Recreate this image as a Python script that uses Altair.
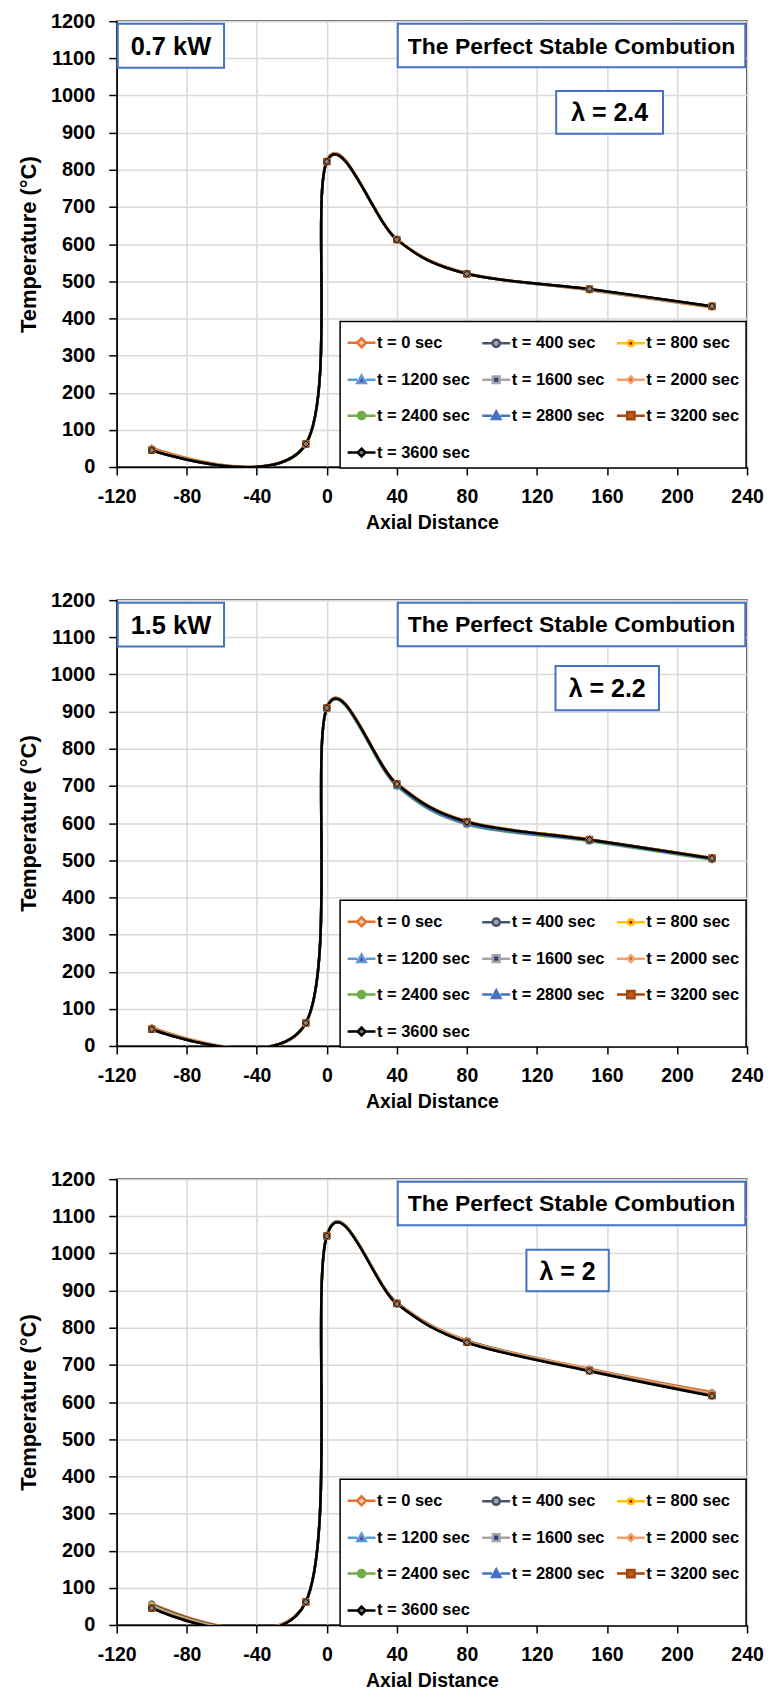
import altair as alt
import pandas as pd

# ---------------- data ----------------
X_POS = [-100, -12, 0, 40, 80, 150, 220]

SERIES = ["t = 0 sec", "t = 400 sec", "t = 800 sec", "t = 1200 sec", "t = 1600 sec",
          "t = 2000 sec", "t = 2400 sec", "t = 2800 sec", "t = 3200 sec", "t = 3600 sec"]

# panel 1 : 0.7 kW, lambda = 2.4
P1 = {
    "t = 0 sec":    [52, 60, 825, 614, 522, 476, 429],
    "t = 400 sec":  [48, 61, 823, 613, 521, 477, 431],
    "t = 800 sec":  [47, 61, 823, 613, 521, 477, 431],
    "t = 1200 sec": [46, 62, 822, 612, 520, 478, 432],
    "t = 1600 sec": [46, 62, 822, 612, 520, 478, 432],
    "t = 2000 sec": [47, 62, 822, 612, 521, 478, 432],
    "t = 2400 sec": [45, 62, 822, 612, 520, 478, 432],
    "t = 2800 sec": [45, 62, 822, 612, 520, 478, 432],
    "t = 3200 sec": [45, 62, 822, 612, 520, 479, 433],
    "t = 3600 sec": [45, 62, 822, 612, 520, 479, 433],
}
# panel 2 : 1.5 kW, lambda = 2.2
P2 = {
    "t = 0 sec":    [51, 60, 912, 707, 605, 556, 506],
    "t = 400 sec":  [47, 61, 911, 706, 604, 556, 506],
    "t = 800 sec":  [47, 61, 911, 706, 604, 556, 506],
    "t = 1200 sec": [46, 62, 910, 704, 602, 555, 505],
    "t = 1600 sec": [46, 62, 910, 704, 602, 555, 505],
    "t = 2000 sec": [47, 62, 911, 706, 604, 556, 506],
    "t = 2400 sec": [45, 62, 908, 699, 596, 551, 501],
    "t = 2800 sec": [45, 62, 909, 701, 598, 553, 503],
    "t = 3200 sec": [45, 62, 910, 706, 604, 556, 506],
    "t = 3600 sec": [45, 62, 910, 705, 603, 555, 505],
}
# panel 3 : lambda = 2
P3 = {
    "t = 0 sec":    [58, 64, 1050, 868, 766, 690, 627],
    "t = 400 sec":  [56, 63, 1049, 867, 765, 688, 624],
    "t = 800 sec":  [52, 63, 1049, 866, 764, 687, 622],
    "t = 1200 sec": [50, 62, 1048, 866, 763, 686, 621],
    "t = 1600 sec": [49, 62, 1048, 866, 762, 686, 620],
    "t = 2000 sec": [50, 63, 1049, 867, 764, 688, 623],
    "t = 2400 sec": [47, 62, 1048, 865, 761, 685, 618],
    "t = 2800 sec": [47, 62, 1048, 865, 761, 685, 618],
    "t = 3200 sec": [45, 62, 1047, 865, 761, 684, 617],
    "t = 3600 sec": [45, 62, 1047, 864, 760, 683, 616],
}

X_TICKS = [-120, -80, -40, 0, 40, 80, 120, 160, 200, 240]
Y_TICKS = [0, 100, 200, 300, 400, 500, 600, 700, 800, 900, 1000, 1100, 1200]

PANEL_TEXT = [
    {"kw": "0.7 kW", "title": "The Perfect Stable Combution", "lam": "λ = 2.4"},
    {"kw": "1.5 kW", "title": "The Perfect Stable Combution", "lam": "λ = 2.2"},
    {"kw": None,     "title": "The Perfect Stable Combution", "lam": "λ = 2"},
]
PANEL_DATA = [P1, P2, P3]

# ---------------- styles / layout ----------------
FONT = "Liberation Sans"
LINE_COLORS = ["#E8712E", "#44546A", "#FFC000", "#5B9BD5", "#A5A5A5",
               "#F4A26B", "#70AD47", "#4472C4", "#9E480E", "#000000"]
MARKER_COLORS = ["#F8CBAD", "#A5A5A5", "#C00000", "#7030A0", "#264478",
                 "#C55A11", "#70AD47", "#4472C4", "#C55A11", "#7F7F7F"]
MARKER_SHAPES = ["diamond", "circle", "circle", "triangle-up", "square",
                 "diamond", "circle", "triangle-up", "square", "diamond"]


def seg(g):
    return f"M-1,0H-{g}M{g},0H1"


def diamond(r):
    return f"M0,-{r}L{r},0L0,{r}L-{r},0Z"


def circle(r):
    return f"M{r},0A{r},{r},0,1,1,-{r},0A{r},{r},0,1,1,{r},0Z"


def tri(r):
    return f"M0,-{r}L{r},{r * 0.8}L-{r},{r * 0.8}Z"


def square(r):
    return f"M-{r},-{r}H{r}V{r}H-{r}Z"


LEGEND_SHAPES = [
    seg(0.32) + diamond(0.32),
    seg(0.26) + circle(0.26),
    seg(0.2) + circle(0.2),
    seg(0.3) + tri(0.3),
    seg(0.24) + square(0.24),
    seg(0.24) + diamond(0.24),
    seg(0.26) + circle(0.26),
    seg(0.3) + tri(0.3),
    seg(0.26) + square(0.26),
    seg(0.28) + diamond(0.28),
]

W, H = 632, 447
LAM_BOXES = [(131, 192, 897, 1012), (130.6, 189.7, 904, 1023), (114, 161, 898, 1010)]

X_SCALE = dict(domain=[-120, 240], nice=False, zero=False)
Y_SCALE = dict(domain=[0, 1200], nice=False)
AX = dict(values=X_TICKS, labelExpr="'' + datum.value", labelFlush=False, labelOverlap=False,
          labelFontSize=19.5, labelPadding=13, titlePadding=7)
AY = dict(values=Y_TICKS, labelExpr="'' + datum.value", labelFlush=False, labelOverlap=False,
          titlePadding=10, labelPadding=14)
X_TITLE = "Axial Distance"
Y_TITLE = "Temperature (°C)"


def xq(field):
    return alt.X(field, type="quantitative", scale=alt.Scale(**X_SCALE),
                 axis=alt.Axis(**AX), title=X_TITLE)


def yq(field):
    return alt.Y(field, type="quantitative", scale=alt.Scale(**Y_SCALE),
                 axis=alt.Axis(**AY), title=Y_TITLE)


def make_panel(i):
    data = PANEL_DATA[i]
    txt = PANEL_TEXT[i]

    rows = []
    for s in SERIES:
        for xv, tv in zip(X_POS, data[s]):
            rows.append({"x": xv, "T": tv, "series": s})
    df = pd.DataFrame(rows)

    base = alt.Chart(df)
    lines = base.mark_line(interpolate="cardinal", strokeWidth=2.5, clip=True).encode(
        x=xq("x"), y=yq("T"),
        stroke=alt.Stroke("series:N", scale=alt.Scale(domain=SERIES, range=LINE_COLORS), legend=None),
    )
    points = base.mark_point(filled=True, size=42, strokeWidth=1, opacity=1, clip=True).encode(
        x=xq("x"), y=yq("T"),
        fill=alt.Fill("series:N", scale=alt.Scale(domain=SERIES, range=MARKER_COLORS), legend=None),
        stroke=alt.Stroke("series:N", scale=alt.Scale(domain=SERIES, range=LINE_COLORS), legend=None),
        shape=alt.Shape("series:N", scale=alt.Scale(domain=SERIES, range=MARKER_SHAPES), legend=None),
    )
    leg = dict(orient="none", legendX=W - 408, legendY=H - 146, columns=3,
               direction="horizontal", title=None)
    legend_layer = base.transform_filter("false").mark_point(filled=True, opacity=1).encode(
        x=xq("x"), y=yq("T"),
        fill=alt.Fill("series:N", scale=alt.Scale(domain=SERIES, range=MARKER_COLORS), legend=alt.Legend(**leg)),
        stroke=alt.Stroke("series:N", scale=alt.Scale(domain=SERIES, range=LINE_COLORS), legend=alt.Legend(**leg)),
        shape=alt.Shape("series:N", scale=alt.Scale(domain=SERIES, range=LEGEND_SHAPES), legend=alt.Legend(**leg)),
    )

    layers = [lines, points, legend_layer]

    def box(x1, x2, y1, y2, label, fs):
        d = pd.DataFrame({"x1": [x1], "x2": [x2], "y1": [y1], "y2": [y2],
                          "xc": [(x1 + x2) / 2], "yc": [(y1 + y2) / 2], "label": [label]})
        r = alt.Chart(d).mark_rect(fill="white", stroke="#4472C4", strokeWidth=2).encode(
            x=xq("x1"), x2="x2:Q", y=yq("y1"), y2="y2:Q")
        t = alt.Chart(d).mark_text(font=FONT, fontSize=fs, fontWeight="bold", color="black",
                                   align="center", baseline="middle", dy=1).encode(
            x=xq("xc"), y=yq("yc"), text="label:N")
        return [r, t]

    if txt["kw"]:
        layers += box(-119.4, -58.7, 1075, 1193, txt["kw"], 25.5)
    layers += box(40.5, 239, 1076, 1193, txt["title"], 23)
    lx1, lx2, ly1, ly2 = LAM_BOXES[i]
    layers += box(lx1, lx2, ly1, ly2, txt["lam"], 25)

    return alt.layer(*layers).resolve_scale(
        stroke="independent", fill="independent", shape="independent"
    ).resolve_legend(stroke="independent", fill="independent", shape="independent").properties(
        width=W, height=H)


chart = alt.vconcat(*[make_panel(i) for i in range(3)], spacing=56.5).resolve_scale(
    stroke="independent", fill="independent", shape="independent"
).resolve_legend(stroke="independent", fill="independent", shape="independent").properties(
    padding={"left": 8, "top": 0, "right": 0, "bottom": 0}
).configure_view(
    stroke="black", strokeWidth=1.5
).configure_axis(
    domainColor="black", domainWidth=1.5, tickColor="black", tickWidth=1.5, tickSize=8,
    gridColor="#D9D9D9", gridWidth=1.5,
    labelFont=FONT, labelFontSize=20, labelFontWeight="bold", labelColor="black",
    titleFont=FONT, titleFontWeight="bold", titleColor="black",
).configure_axisX(
    titleFontSize=19.5
).configure_axisY(
    titleFontSize=22
).configure_legend(
    symbolSize=784, symbolStrokeWidth=2.5, symbolOpacity=1,
    labelFont=FONT, labelFontSize=16.5, labelFontWeight="bold", labelColor="black",
    labelOffset=0, rowPadding=12, columnPadding=6, padding=6,
    fillColor="white", strokeColor="black", strokeWidth=1.5, labelLimit=200,
)

chart.save("out.html", embed_options={"renderer": "svg", "actions": False})
